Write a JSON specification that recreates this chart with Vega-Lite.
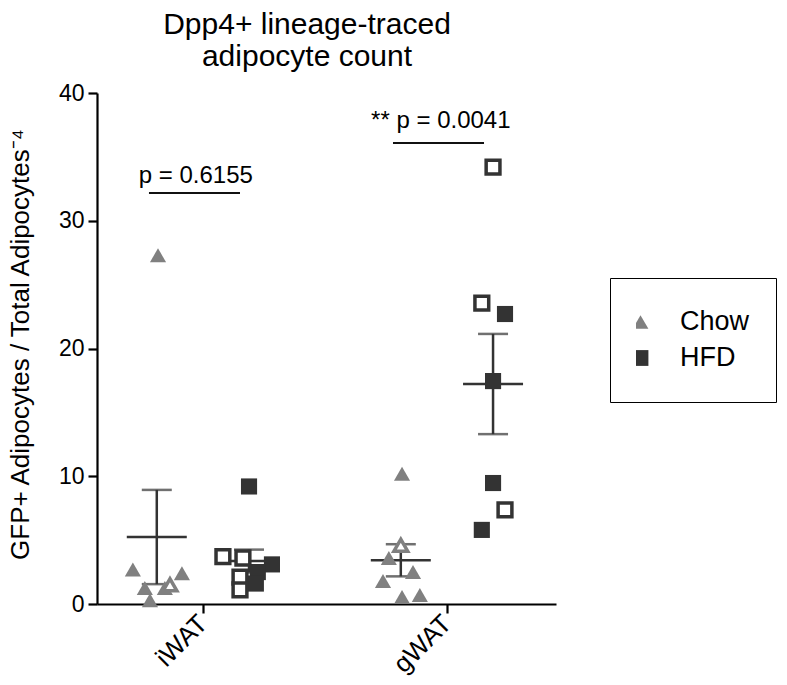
{
  "$schema": "https://vega.github.io/schema/vega-lite/v6.json",
  "width": 459,
  "height": 511,
  "autosize": {"type": "none"},
  "padding": {"left": 97, "top": 93, "right": 231, "bottom": 81},
  "background": "white",
  "config": {
    "font": "Liberation Sans",
    "view": {"stroke": null},
    "axis": {"grid": false, "domainColor": "black", "domainWidth": 2.2, "tickColor": "black", "tickWidth": 2.2, "tickSize": 9, "labelColor": "black", "titleColor": "black", "labelFont": "Liberation Sans", "titleFont": "Liberation Sans", "titleFontWeight": "normal"},
    "axisX": {"labelAngle": -45, "labelAlign": "right", "labelBaseline": "middle", "labelFontSize": 26, "labelPadding": 6},
    "axisY": {"labelFontSize": 23, "labelPadding": 4, "titleFontSize": 26, "titleAngle": -90, "titleX": -77, "titleY": 251, "titleAlign": "center", "titleBaseline": "middle"}
  },
  "title": {
    "text": ["Dpp4+ lineage-traced", "adipocyte count"],
    "anchor": "start",
    "frame": "group",
    "align": "center",
    "dx": 210,
    "offset": 10,
    "fontSize": 30,
    "lineHeight": 32,
    "fontWeight": "normal",
    "font": "Liberation Sans",
    "color": "black"
  },
  "datasets": {
    "points": [
      {"group": "iWAT Chow", "tissue": "iWAT", "diet": "Chow", "style": "filled", "x": 0.816, "value": 27.3},
      {"group": "iWAT Chow", "tissue": "iWAT", "diet": "Chow", "style": "filled", "x": 0.713, "value": 2.7},
      {"group": "iWAT Chow", "tissue": "iWAT", "diet": "Chow", "style": "filled", "x": 0.762, "value": 1.25},
      {"group": "iWAT Chow", "tissue": "iWAT", "diet": "Chow", "style": "filled", "x": 0.783, "value": 0.3},
      {"group": "iWAT Chow", "tissue": "iWAT", "diet": "Chow", "style": "filled", "x": 0.844, "value": 1.25},
      {"group": "iWAT Chow", "tissue": "iWAT", "diet": "Chow", "style": "open", "x": 0.865, "value": 1.5},
      {"group": "iWAT Chow", "tissue": "iWAT", "diet": "Chow", "style": "filled", "x": 0.914, "value": 2.4},
      {"group": "iWAT HFD", "tissue": "iWAT", "diet": "HFD", "style": "open", "x": 1.082, "value": 3.7},
      {"group": "iWAT HFD", "tissue": "iWAT", "diet": "HFD", "style": "open", "x": 1.164, "value": 3.6},
      {"group": "iWAT HFD", "tissue": "iWAT", "diet": "HFD", "style": "open", "x": 1.152, "value": 2.1},
      {"group": "iWAT HFD", "tissue": "iWAT", "diet": "HFD", "style": "open", "x": 1.152, "value": 1.1},
      {"group": "iWAT HFD", "tissue": "iWAT", "diet": "HFD", "style": "filled", "x": 1.189, "value": 9.2},
      {"group": "iWAT HFD", "tissue": "iWAT", "diet": "HFD", "style": "filled", "x": 1.283, "value": 3.1},
      {"group": "iWAT HFD", "tissue": "iWAT", "diet": "HFD", "style": "filled", "x": 1.225, "value": 2.5},
      {"group": "iWAT HFD", "tissue": "iWAT", "diet": "HFD", "style": "filled", "x": 1.217, "value": 1.6},
      {"group": "gWAT Chow", "tissue": "gWAT", "diet": "Chow", "style": "filled", "x": 1.816, "value": 10.2},
      {"group": "gWAT Chow", "tissue": "gWAT", "diet": "Chow", "style": "open", "x": 1.811, "value": 4.6},
      {"group": "gWAT Chow", "tissue": "gWAT", "diet": "Chow", "style": "filled", "x": 1.762, "value": 3.6},
      {"group": "gWAT Chow", "tissue": "gWAT", "diet": "Chow", "style": "filled", "x": 1.861, "value": 2.5},
      {"group": "gWAT Chow", "tissue": "gWAT", "diet": "Chow", "style": "filled", "x": 1.738, "value": 1.8},
      {"group": "gWAT Chow", "tissue": "gWAT", "diet": "Chow", "style": "filled", "x": 1.816, "value": 0.55},
      {"group": "gWAT Chow", "tissue": "gWAT", "diet": "Chow", "style": "filled", "x": 1.889, "value": 0.7},
      {"group": "gWAT HFD", "tissue": "gWAT", "diet": "HFD", "style": "open", "x": 2.189, "value": 34.2},
      {"group": "gWAT HFD", "tissue": "gWAT", "diet": "HFD", "style": "open", "x": 2.143, "value": 23.55},
      {"group": "gWAT HFD", "tissue": "gWAT", "diet": "HFD", "style": "filled", "x": 2.238, "value": 22.7},
      {"group": "gWAT HFD", "tissue": "gWAT", "diet": "HFD", "style": "filled", "x": 2.189, "value": 17.45},
      {"group": "gWAT HFD", "tissue": "gWAT", "diet": "HFD", "style": "filled", "x": 2.189, "value": 9.47},
      {"group": "gWAT HFD", "tissue": "gWAT", "diet": "HFD", "style": "open", "x": 2.238, "value": 7.36},
      {"group": "gWAT HFD", "tissue": "gWAT", "diet": "HFD", "style": "filled", "x": 2.143, "value": 5.8}
    ],
    "groups": [
      {"group": "iWAT Chow", "center": 0.811},
      {"group": "iWAT HFD", "center": 1.189},
      {"group": "gWAT Chow", "center": 1.811},
      {"group": "gWAT HFD", "center": 2.189}
    ],
    "pvals": [
      {"x1": 0.779, "x2": 1.152, "y": 32.17, "tx": 0.971, "ty": 32.96, "label": "p = 0.6155"},
      {"x1": 1.779, "x2": 2.152, "y": 36.09, "tx": 1.975, "ty": 37.26, "label": "** p = 0.0041"}
    ]
  },
  "layer": [
    {
      "data": {"name": "points"},
      "transform": [{"lookup": "group", "from": {"data": {"name": "groups"}, "key": "group", "fields": ["center"]}}],
      "mark": {"type": "errorbar", "extent": "stderr", "orient": "vertical", "ticks": true, "size": 30, "thickness": 2.5, "color": "#333333"},
      "encoding": {
        "x": {"field": "center", "type": "quantitative", "scale": {"domain": [0.566, 2.447], "nice": false, "zero": false}, "axis": {"title": null, "values": [1, 2], "labelExpr": "datum.value == 1 ? 'iWAT' : 'gWAT'"}},
        "y": {"field": "value", "type": "quantitative", "scale": {"domain": [0, 40], "nice": false}, "axis": {"title": "GFP+ Adipocytes / Total Adipocytes⁻⁴", "values": [0, 10, 20, 30, 40]}}
      }
    },
    {
      "data": {"name": "points"},
      "transform": [{"lookup": "group", "from": {"data": {"name": "groups"}, "key": "group", "fields": ["center"]}}],
      "mark": {"type": "tick", "orient": "horizontal", "size": 60, "thickness": 2.5, "color": "#333333"},
      "encoding": {
        "x": {"field": "center", "type": "quantitative", "scale": {"domain": [0.566, 2.447], "nice": false, "zero": false}, "axis": {"title": null, "values": [1, 2], "labelExpr": "datum.value == 1 ? 'iWAT' : 'gWAT'"}},
        "y": {"aggregate": "mean", "field": "value", "type": "quantitative", "scale": {"domain": [0, 40], "nice": false}, "axis": {"title": "GFP+ Adipocytes / Total Adipocytes⁻⁴", "values": [0, 10, 20, 30, 40]}}
      }
    },
    {
      "data": {"name": "points"},
      "transform": [{"filter": "datum.style == 'filled'"}],
      "mark": {"type": "point", "filled": true, "opacity": 1, "size": 260},
      "encoding": {
        "x": {"field": "x", "type": "quantitative", "scale": {"domain": [0.566, 2.447], "nice": false, "zero": false}, "axis": {"title": null, "values": [1, 2], "labelExpr": "datum.value == 1 ? 'iWAT' : 'gWAT'"}},
        "y": {"field": "value", "type": "quantitative", "scale": {"domain": [0, 40], "nice": false}, "axis": {"title": "GFP+ Adipocytes / Total Adipocytes⁻⁴", "values": [0, 10, 20, 30, 40]}},
        "shape": {"field": "diet", "type": "nominal", "scale": {"domain": ["Chow", "HFD"], "range": ["triangle-up", "square"]},
          "legend": {"title": null, "orient": "none", "legendX": 513, "legendY": 185, "strokeColor": "black", "padding": 26, "rowPadding": 0, "clipHeight": 36, "symbolSize": 250, "symbolOffset": -9, "labelOffset": 26, "labelFontSize": 27, "labelColor": "black", "labelFont": "Liberation Sans", "symbolStrokeWidth": 0, "encode": {"legend": {"update": {"strokeWidth": {"value": 1.5}}}}}},
        "color": {"field": "diet", "type": "nominal", "scale": {"domain": ["Chow", "HFD"], "range": ["#808080", "#333333"]},
          "legend": {"title": null, "orient": "none", "legendX": 513, "legendY": 185, "strokeColor": "black", "padding": 26, "rowPadding": 0, "clipHeight": 36, "symbolSize": 250, "symbolOffset": -9, "labelOffset": 26, "labelFontSize": 27, "labelColor": "black", "labelFont": "Liberation Sans", "symbolStrokeWidth": 0, "encode": {"legend": {"update": {"strokeWidth": {"value": 1.5}}}}}}
      }
    },
    {
      "data": {"name": "points"},
      "transform": [{"filter": "datum.style == 'open'"}],
      "mark": {"type": "point", "filled": false, "fill": "white", "opacity": 1, "size": 190, "strokeWidth": 3.5},
      "encoding": {
        "x": {"field": "x", "type": "quantitative", "scale": {"domain": [0.566, 2.447], "nice": false, "zero": false}, "axis": {"title": null, "values": [1, 2], "labelExpr": "datum.value == 1 ? 'iWAT' : 'gWAT'"}},
        "y": {"field": "value", "type": "quantitative", "scale": {"domain": [0, 40], "nice": false}, "axis": {"title": "GFP+ Adipocytes / Total Adipocytes⁻⁴", "values": [0, 10, 20, 30, 40]}},
        "shape": {"field": "diet", "type": "nominal", "scale": {"domain": ["Chow", "HFD"], "range": ["triangle-up", "square"]}, "legend": null},
        "color": {"field": "diet", "type": "nominal", "scale": {"domain": ["Chow", "HFD"], "range": ["#808080", "#333333"]}, "legend": null}
      }
    },
    {
      "data": {"name": "pvals"},
      "mark": {"type": "rule", "strokeWidth": 2, "color": "#111111"},
      "encoding": {
        "x": {"field": "x1", "type": "quantitative", "scale": {"domain": [0.566, 2.447], "nice": false, "zero": false}, "axis": {"title": null, "values": [1, 2], "labelExpr": "datum.value == 1 ? 'iWAT' : 'gWAT'"}},
        "x2": {"field": "x2"},
        "y": {"field": "y", "type": "quantitative", "scale": {"domain": [0, 40], "nice": false}, "axis": {"title": "GFP+ Adipocytes / Total Adipocytes⁻⁴", "values": [0, 10, 20, 30, 40]}}
      }
    },
    {
      "data": {"name": "pvals"},
      "mark": {"type": "text", "fontSize": 24, "align": "center", "baseline": "alphabetic", "color": "black", "font": "Liberation Sans"},
      "encoding": {
        "x": {"field": "tx", "type": "quantitative", "scale": {"domain": [0.566, 2.447], "nice": false, "zero": false}, "axis": {"title": null, "values": [1, 2], "labelExpr": "datum.value == 1 ? 'iWAT' : 'gWAT'"}},
        "y": {"field": "ty", "type": "quantitative", "scale": {"domain": [0, 40], "nice": false}, "axis": {"title": "GFP+ Adipocytes / Total Adipocytes⁻⁴", "values": [0, 10, 20, 30, 40]}},
        "text": {"field": "label"}
      }
    }
  ]
}
